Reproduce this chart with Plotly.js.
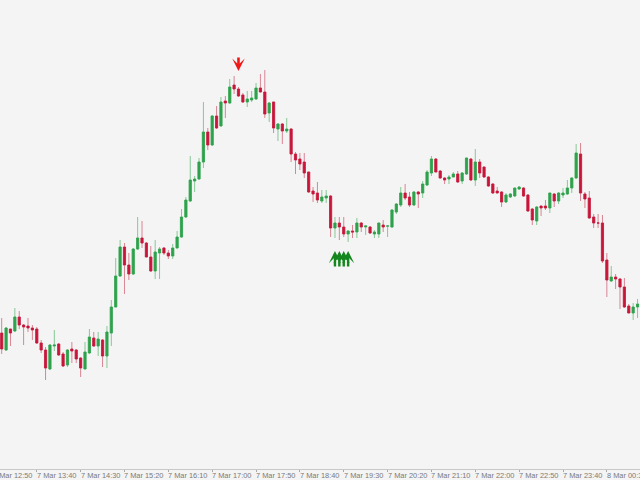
<!DOCTYPE html>
<html>
<head>
<meta charset="utf-8">
<script src="https://cdn.plot.ly/plotly-3.0.1.min.js"></script>
<style>html,body{margin:0;padding:0;background:#f4f4f4;}#chart{width:640px;height:480px;}</style>
</head>
<body>
<div id="chart"></div>
<script>
// 5-minute candles, 7 Mar 13:00 .. 8 Mar 01:05 (146 bars)
var startTime = '2024-03-07T13:00:00Z';
var barMinutes = 5;

var opens  = [136,119,140,138,152,144,143,141,140,126,119,100,123,125,115,104,120,119,111,100,116,131,123,129,113,136,162,193,222,204,195,220,231,226,212,198,216,221,216,213,221,232,252,268,288,290,307,337,324,353,343,368,366,384,380,374,367,369,370,381,377,356,367,340,345,338,340,315,310,307,297,278,276,268,271,273,241,246,242,235,238,237,246,242,242,235,235,244,243,242,257,264,276,272,264,277,276,284,296,310,298,291,290,292,295,288,295,310,289,307,302,292,285,278,277,267,272,273,280,281,274,260,248,263,263,261,275,268,274,275,281,291,315,275,271,252,246,246,209,188,192,190,182,163,156,162];
var highs  = [151,142,140,161,158,145,151,144,142,129,122,125,139,126,117,120,127,120,112,127,140,137,137,130,143,169,211,229,226,216,221,252,248,227,223,229,222,222,219,225,238,260,272,313,293,311,367,341,354,363,372,373,390,393,382,376,378,378,386,395,399,367,367,346,346,351,341,317,316,316,297,282,287,279,279,274,252,252,252,239,244,251,247,244,243,239,246,249,244,260,266,282,285,277,278,278,288,299,313,311,299,292,294,297,298,297,311,311,320,310,302,293,286,282,278,276,276,281,283,282,275,261,263,263,269,276,276,277,281,289,292,325,326,277,278,255,255,254,216,203,195,191,191,165,166,170];
var lows   = [115,118,123,137,140,124,137,129,125,116,89,99,118,113,102,102,106,106,92,100,115,122,113,102,101,123,162,192,175,189,194,219,221,212,197,190,190,214,210,210,221,231,251,267,277,289,301,319,323,340,343,351,365,375,372,366,362,367,369,377,351,347,336,328,325,336,307,295,299,291,276,267,266,266,266,232,231,229,232,227,231,231,237,234,235,231,231,237,232,241,255,262,269,262,263,261,271,283,293,297,290,285,285,292,286,285,294,288,283,291,291,282,275,276,262,266,271,272,279,272,257,244,244,253,259,256,262,265,271,274,276,290,268,261,250,241,241,206,172,187,180,160,161,156,149,151];
var closes = [120,141,136,152,144,142,141,139,126,119,101,124,124,114,103,119,118,110,101,117,132,123,130,113,137,162,193,222,204,195,220,231,226,212,198,217,220,216,213,221,232,252,269,289,290,307,337,324,353,341,367,366,382,380,373,367,370,371,381,377,355,366,341,345,338,340,315,309,305,296,277,275,269,272,273,241,246,242,235,238,237,246,242,243,236,237,246,242,243,259,265,276,271,264,277,275,285,297,310,297,291,289,292,295,287,296,311,289,307,296,292,283,276,276,267,274,275,281,282,273,258,249,262,261,261,276,268,276,276,281,291,316,276,270,251,246,246,208,189,192,190,182,162,156,162,165];

// signal arrows (bar index, price level at the arrow tip)
var sellSignalIdx = [54];
var sellSignalLevel = [398];
var buySignalIdx = [76, 77, 78, 79];
var buySignalLevel = [218, 218, 218, 218];

// time-axis labels
var tickTimes  = ['2024-03-07T12:50:00Z','2024-03-07T13:40:00Z','2024-03-07T14:30:00Z','2024-03-07T15:20:00Z','2024-03-07T16:10:00Z','2024-03-07T17:00:00Z','2024-03-07T17:50:00Z','2024-03-07T18:40:00Z','2024-03-07T19:30:00Z','2024-03-07T20:20:00Z','2024-03-07T21:10:00Z','2024-03-07T22:00:00Z','2024-03-07T22:50:00Z','2024-03-07T23:40:00Z','2024-03-08T00:30:00Z'];
var tickLabels = ['7 Mar 12:50','7 Mar 13:40','7 Mar 14:30','7 Mar 15:20','7 Mar 16:10','7 Mar 17:00','7 Mar 17:50','7 Mar 18:40','7 Mar 19:30','7 Mar 20:20','7 Mar 21:10','7 Mar 22:00','7 Mar 22:50','7 Mar 23:40','8 Mar 00:30'];

var rangeStart = '2024-03-07T12:58:04Z';
var rangeEnd   = '2024-03-08T01:07:48Z';

function pad(n){ return (n < 10 ? '0' : '') + n; }
function toPlotlyDate(ms){
  var d = new Date(ms);
  return d.getUTCFullYear() + '-' + pad(d.getUTCMonth()+1) + '-' + pad(d.getUTCDate()) + ' ' +
         pad(d.getUTCHours()) + ':' + pad(d.getUTCMinutes()) + ':' + pad(d.getUTCSeconds());
}
var t0 = Date.parse(startTime);
var times = opens.map(function(_, i){ return toPlotlyDate(t0 + i * barMinutes * 60000); });

var bodyHigh = opens.map(function(o, i){ return Math.max(o, closes[i]); });
var bodyLow  = opens.map(function(o, i){ return Math.min(o, closes[i]); });

var GREEN = '#2ea24c', RED = '#c8163a';
var GREEN_W = '#86c896', RED_W = '#d88594';

var wicks = {
  type: 'candlestick', x: times, open: opens, high: highs, low: lows, close: closes,
  increasing: {line: {color: GREEN_W, width: 1}, fillcolor: GREEN_W},
  decreasing: {line: {color: RED_W, width: 1}, fillcolor: RED_W},
  whiskerwidth: 0, hoverinfo: 'skip', showlegend: false
};
var bodies = {
  type: 'candlestick', x: times, open: opens, high: bodyHigh, low: bodyLow, close: closes,
  increasing: {line: {color: GREEN, width: 0.6}, fillcolor: GREEN},
  decreasing: {line: {color: RED, width: 0.6}, fillcolor: RED},
  whiskerwidth: 0, hoverinfo: 'skip', showlegend: false
};

var r0 = Date.parse(rangeStart), r1 = Date.parse(rangeEnd);
var annotations = [];
tickTimes.forEach(function(t, i){
  annotations.push({
    xref: 'paper', yref: 'paper',
    x: (Date.parse(t) - r0) / (r1 - r0), y: 0,
    xanchor: 'left', yanchor: 'top', xshift: -1, yshift: -1, borderpad: 0,
    text: tickLabels[i], showarrow: false,
    font: {family: 'Liberation Sans, Arial, sans-serif', size: 7.4, color: '#7a7a7a'}
  });
});
sellSignalIdx.forEach(function(k, i){
  annotations.push({
    xref: 'x', yref: 'y', x: times[k], y: sellSignalLevel[i],
    ax: 0, ay: -15, text: '', showarrow: true,
    arrowhead: 3, arrowwidth: 2.6, arrowsize: 0.8, arrowcolor: '#ee1818'
  });
});
buySignalIdx.forEach(function(k, i){
  annotations.push({
    xref: 'x', yref: 'y', x: times[k], y: buySignalLevel[i],
    ax: 0, ay: 17, text: '', showarrow: true,
    arrowhead: 3, arrowwidth: 2.4, arrowsize: 0.85, arrowcolor: '#14861e'
  });
});

var layout = {
  width: 640, height: 480,
  margin: {l: 0, r: 0, t: 0, b: 11, pad: 0},
  paper_bgcolor: '#f4f4f4', plot_bgcolor: '#f4f4f4',
  showlegend: false, hovermode: false,
  xaxis: {
    type: 'date', range: [toPlotlyDate(r0), toPlotlyDate(r1)],
    rangeslider: {visible: false},
    showgrid: false, zeroline: false,
    showline: true, linecolor: '#c8c8c8', linewidth: 1,
    ticks: 'outside', ticklen: 2, tickcolor: '#a8a8a8', tickwidth: 1,
    tickmode: 'array', tickvals: tickTimes.map(function(t){ return toPlotlyDate(Date.parse(t)); }),
    showticklabels: false, fixedrange: true
  },
  yaxis: {range: [0, 469], visible: false, showgrid: false, zeroline: false, fixedrange: true},
  annotations: annotations
};

Plotly.newPlot('chart', [wicks, bodies], layout, {displayModeBar: false, staticPlot: true});
</script>
</body>
</html>
